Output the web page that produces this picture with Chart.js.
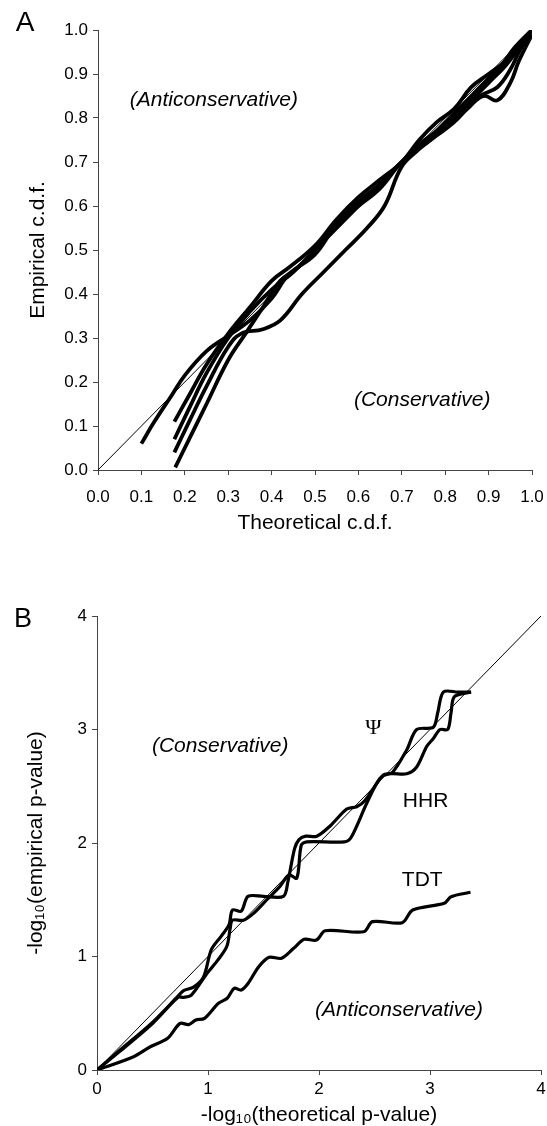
<!DOCTYPE html>
<html lang="en">
<head>
<meta charset="UTF-8">
<title>Empirical vs theoretical c.d.f. / p-values</title>
<script src="https://cdn.jsdelivr.net/npm/chart.js@4.4.0/dist/chart.umd.min.js"></script>
<style>
  html, body { margin: 0; padding: 0; background: #fff; }
  body { width: 547px; height: 1126px; position: relative; overflow: hidden; }
  canvas { position: absolute; left: 0; }
  #chartA { top: 0; }
  #chartB { top: 570px; }
</style>
</head>
<body>
<canvas id="chartA" width="547" height="560"></canvas>
<canvas id="chartB" width="547" height="556"></canvas>

<script>
// ---- panel A: empirical vs theoretical c.d.f. (one curve per run) ----
const ticksA = [0, 0.1, 0.2, 0.3, 0.4, 0.5, 0.6, 0.7, 0.8, 0.9, 1.0];
const diagA = [[0, 0], [1, 1]];

const runA1 = [[0.10, 0.06], [0.13, 0.11], [0.17, 0.17], [0.20, 0.215], [0.25, 0.27], [0.30, 0.305],
  [0.35, 0.34], [0.40, 0.39], [0.44, 0.445], [0.50, 0.49], [0.55, 0.56], [0.60, 0.61], [0.65, 0.65],
  [0.70, 0.70], [0.74, 0.74], [0.78, 0.77], [0.82, 0.80], [0.86, 0.84], [0.90, 0.88], [0.94, 0.92],
  [0.97, 0.96], [1.0, 1.0]];
const runA2 = [[0.176, 0.11], [0.21, 0.17], [0.25, 0.24], [0.30, 0.31], [0.35, 0.37], [0.40, 0.43],
  [0.44, 0.46], [0.50, 0.51], [0.55, 0.57], [0.60, 0.62], [0.65, 0.66], [0.70, 0.70], [0.74, 0.75],
  [0.78, 0.79], [0.82, 0.82], [0.86, 0.87], [0.90, 0.90], [0.94, 0.93], [0.97, 0.97], [1.0, 1.0]];
const runA3 = [[0.176, 0.07], [0.21, 0.14], [0.25, 0.22], [0.30, 0.30], [0.35, 0.36], [0.40, 0.41],
  [0.45, 0.45], [0.50, 0.50], [0.55, 0.56], [0.60, 0.60], [0.65, 0.64], [0.70, 0.70], [0.75, 0.74],
  [0.80, 0.78], [0.85, 0.82], [0.88, 0.85], [0.92, 0.87], [0.95, 0.91], [0.97, 0.95], [1.0, 1.0]];
const runA4 = [[0.176, 0.04], [0.21, 0.11], [0.25, 0.19], [0.30, 0.28], [0.33, 0.31], [0.38, 0.32],
  [0.42, 0.34], [0.47, 0.40], [0.52, 0.45], [0.57, 0.50], [0.62, 0.55], [0.66, 0.60], [0.70, 0.69],
  [0.74, 0.73], [0.78, 0.77], [0.82, 0.81], [0.86, 0.85], [0.90, 0.89], [0.93, 0.92], [0.96, 0.96],
  [1.0, 1.0]];
const runA5 = [[0.178, 0.006], [0.21, 0.07], [0.25, 0.15], [0.30, 0.25], [0.34, 0.31], [0.38, 0.37],
  [0.42, 0.43], [0.46, 0.46], [0.50, 0.50], [0.55, 0.55], [0.60, 0.60], [0.65, 0.65], [0.70, 0.70],
  [0.74, 0.73], [0.78, 0.76], [0.82, 0.79], [0.86, 0.83], [0.89, 0.85], [0.92, 0.84], [0.95, 0.88],
  [0.97, 0.93], [1.0, 0.99]];

// ---- panel B: -log10 p-values ----
const ticksB = [0, 1, 2, 3, 4];
const diagB = [[0, 0], [4, 4]];

const psiB = [[0, 0], [0.2, 0.17], [0.5, 0.42], [0.73, 0.65], [0.78, 0.70], [0.87, 0.73], [0.96, 0.82],
  [1.03, 1.06], [1.12, 1.18], [1.19, 1.28], [1.22, 1.41], [1.30, 1.40], [1.36, 1.53], [1.50, 1.53],
  [1.68, 1.53], [1.72, 1.66], [1.78, 1.95], [1.82, 2.03], [1.88, 2.06], [1.98, 2.06], [2.10, 2.15],
  [2.25, 2.30], [2.34, 2.32], [2.41, 2.37], [2.58, 2.60], [2.66, 2.62], [2.79, 2.82], [2.88, 3.0],
  [3.03, 3.02], [3.07, 3.15], [3.12, 3.33], [3.25, 3.33], [3.37, 3.33]];
const hhrB = [[0, 0], [0.2, 0.16], [0.5, 0.41], [0.73, 0.64], [0.78, 0.64], [0.85, 0.66], [0.99, 0.85],
  [1.09, 0.97], [1.17, 1.09], [1.20, 1.25], [1.22, 1.32], [1.32, 1.32], [1.41, 1.38], [1.53, 1.50],
  [1.65, 1.62], [1.73, 1.72], [1.80, 1.69], [1.84, 1.98], [1.89, 2.01], [2.23, 2.01], [2.29, 2.05],
  [2.43, 2.35], [2.55, 2.57], [2.64, 2.61], [2.79, 2.61], [2.88, 2.67], [2.97, 2.85], [3.03, 2.92],
  [3.09, 3.0], [3.16, 3.0], [3.19, 3.15], [3.22, 3.29], [3.37, 3.33]];
const tdtB = [[0, 0], [0.33, 0.117], [0.48, 0.205], [0.637, 0.28], [0.748, 0.41], [0.826, 0.40],
  [0.89, 0.44], [0.968, 0.455], [1.094, 0.588], [1.173, 0.632], [1.236, 0.72], [1.30, 0.705],
  [1.362, 0.764], [1.457, 0.91], [1.551, 0.993], [1.662, 0.984], [1.772, 1.072], [1.867, 1.151],
  [1.977, 1.145], [2.056, 1.227], [2.403, 1.218], [2.482, 1.307], [2.75, 1.298], [2.844, 1.41],
  [3.128, 1.469], [3.19, 1.527], [3.365, 1.566]];

//------------------------------------------------------

const sans = '"Liberation Sans", Arial, Helvetica, sans-serif';
const axisColor = '#444';

function toPoints(arr) {
    return arr.map(p => ({ x: p[0], y: p[1] }))
}

function curve(arr, width, tension) {
    return {
        data: toPoints(arr),
        showLine: true,
        borderColor: '#000',
        borderWidth: width,
        pointRadius: 0,
        tension: tension,
        borderCapStyle: 'butt',
        borderJoinStyle: 'round'
    }
}

// free text (labels inside / around the plot)
const textLabels = {
    id: 'textLabels',
    afterDraw(chart, args, opts) {
        const ctx = chart.ctx
        const sx = chart.scales.x, sy = chart.scales.y
        ctx.save()
        ctx.fillStyle = '#000'
        ctx.textAlign = 'center'
        ctx.textBaseline = 'middle'
        opts.items.forEach(t => {
            ctx.font = t.font
            const px = t.px !== undefined ? t.px : sx.getPixelForValue(t.x)
            const py = t.py !== undefined ? t.py : sy.getPixelForValue(t.y)
            ctx.fillText(t.text, px, py)
        })
        ctx.restore()
    }
}

function axis(ticks, fmt, title, tickPad, titlePad, extra) {
    return Object.assign({
        type: 'linear',
        min: ticks[0],
        max: ticks[ticks.length - 1],
        afterBuildTicks: s => { s.ticks = ticks.map(v => ({ value: v })) },
        border: { color: axisColor, width: 1 },
        grid: { drawOnChartArea: false, drawTicks: true, tickLength: 5, color: axisColor },
        ticks: { color: '#000', padding: tickPad, font: { family: sans, size: 17 }, callback: fmt },
        title: {
            display: true, text: title, color: '#000', padding: titlePad,
            font: { family: sans, size: 21, lineHeight: 1 }
        }
    }, extra)
}

// fixed box sizes so the plot area lands where it does in the figure
function fixBox(w, h) {
    return s => {
        if (w) s.width = w
        if (h) {
            s.height = h
            s.paddingLeft = 0
            s.paddingRight = 0
        }
    }
}

// chart A -------------------------------------------
new Chart(document.getElementById('chartA'), {
    type: 'scatter',
    data: {
        datasets: [
            curve(diagA, 1, 0),
            curve(runA1, 3.8, 0.4),
            curve(runA2, 3.8, 0.4),
            curve(runA3, 3.8, 0.4),
            curve(runA4, 3.8, 0.4),
            curve(runA5, 3.8, 0.4)
        ]
    },
    options: {
        responsive: false,
        animation: false,
        layout: { padding: { left: 0, right: 15, top: 30, bottom: 0 } },
        plugins: {
            legend: { display: false },
            tooltip: { enabled: false },
            textLabels: {
                items: [
                    { text: 'A', px: 25, py: 23, font: '28px ' + sans },
                    { text: '(Anticonservative)', x: 0.267, y: 0.841, font: 'italic 21px ' + sans },
                    { text: '(Conservative)', x: 0.747, y: 0.159, font: 'italic 21px ' + sans }
                ]
            }
        },
        scales: {
            x: axis(ticksA, v => v.toFixed(1), 'Theoretical c.d.f.', 12, { top: 0, bottom: 26 }, {
                afterFit: fixBox(0, 90)
            }),
            y: axis(ticksA, v => v.toFixed(1), 'Empirical c.d.f.', 5, { top: 28, bottom: 0 }, {
                afterFit: fixBox(98, 0)
            })
        }
    },
    plugins: [textLabels]
});

// chart B -------------------------------------------
new Chart(document.getElementById('chartB'), {
    type: 'scatter',
    data: {
        datasets: [
            curve(diagB, 1, 0),
            curve(psiB, 3.2, 0.3),
            curve(hhrB, 3.2, 0.3),
            curve(tdtB, 3.2, 0.3)
        ]
    },
    options: {
        responsive: false,
        animation: false,
        layout: { padding: { left: 0, right: 6, top: 46, bottom: 0 } },
        plugins: {
            legend: { display: false },
            tooltip: { enabled: false },
            textLabels: {
                items: [
                    { text: 'B', px: 23, py: 50, font: '27px ' + sans },
                    { text: '(Conservative)', x: 1.11, y: 2.85, font: 'italic 21px ' + sans },
                    { text: 'Ψ', x: 2.49, y: 3.01, font: '22px "Liberation Serif", "DejaVu Serif", serif' },
                    { text: 'HHR', x: 2.96, y: 2.37, font: '21px ' + sans },
                    { text: 'TDT', x: 2.93, y: 1.67, font: '21px ' + sans },
                    { text: '(Anticonservative)', x: 2.72, y: 0.53, font: 'italic 21px ' + sans }
                ]
            }
        },
        scales: {
            x: axis(ticksB, v => String(v), '-log₁₀(theoretical p-value)', 4, { top: 0, bottom: 0 }, {
                afterFit: fixBox(0, 56)
            }),
            y: axis(ticksB, v => String(v), '-log₁₀(empirical p-value)', 5, { top: 26, bottom: 0 }, {
                afterFit: fixBox(97, 0)
            })
        }
    },
    plugins: [textLabels]
});
</script>
</body>
</html>
